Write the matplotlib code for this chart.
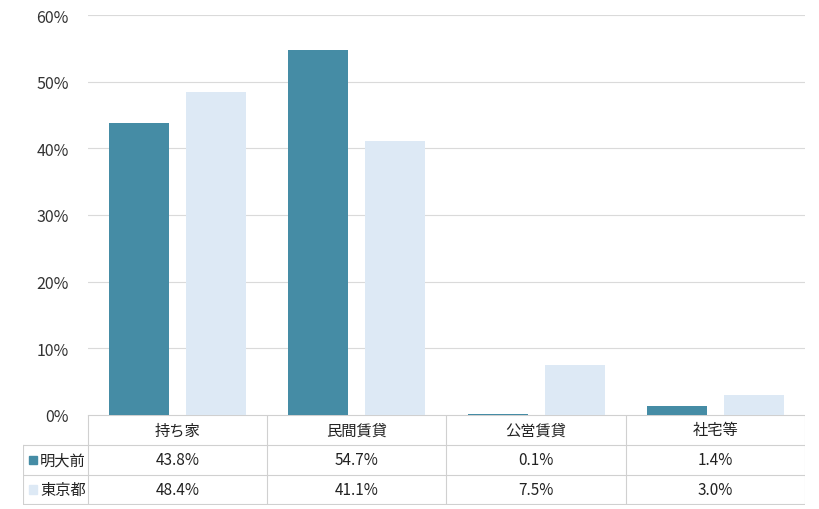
import numpy as np
import matplotlib
matplotlib.use("Agg")
import matplotlib.pyplot as plt

plt.rcParams['font.family'] = ['Noto Sans CJK JP', 'DejaVu Sans']

# データ
categories = ["持ち家", "民間賃貸", "公営賃貸", "社宅等"]
series_names = ["明大前", "東京都"]
meidaimae = [43.8, 54.7, 0.1, 1.4]
tokyo = [48.4, 41.1, 7.5, 3.0]
yticks = [0, 10, 20, 30, 40, 50, 60]

colors = ["#458ca5", "#dde9f5"]
W, H = 820, 510

fig = plt.figure(figsize=(8.2, 5.1), dpi=100)

# プロット領域 (ピクセル -> 図座標)
left, right, top, bottom = 88, 805, 16, 416
ax = fig.add_axes([left / W, 1 - bottom / H, (right - left) / W, (bottom - top) / H])

x = np.arange(len(categories))
bw = 0.335
off = 0.43
ax.bar(x - off / 2, meidaimae, width=bw, color=colors[0], zorder=3)
ax.bar(x + off / 2, tokyo, width=bw, color=colors[1], zorder=3)
ax.set_xlim(-0.5, len(categories) - 0.5)
ax.set_ylim(0, 60)
ax.set_yticks(yticks)
ax.set_yticklabels([f"{v}%" for v in yticks], fontsize=11.5, color="#333333")
ax.set_xticks([])
ax.tick_params(axis="y", length=0, pad=14)
for s in ax.spines.values():
    s.set_visible(False)
ax.grid(axis="y", color="#dadada", linestyle="-", linewidth=0.8, zorder=0)

# データテーブル
tleft, ttop, tbottom = 23, 416, 506
tax = fig.add_axes([tleft / W, 1 - tbottom / H, (right - tleft) / W, (tbottom - ttop) / H])
tax.set_xlim(tleft, right)
tax.set_ylim(3.02, 0)
tax.axis("off")
colw = (right - left) / len(categories)
lc = "#d0d0d0"
lw = 0.8
# 横線
tax.plot([left, right], [0, 0], color=lc, lw=lw)
for r in [1, 2, 3]:
    tax.plot([tleft, right], [r, r], color=lc, lw=lw)
# 縦線
tax.plot([tleft, tleft], [1, 3], color=lc, lw=lw)
for i in range(len(categories) + 1):
    tax.plot([left + i * colw] * 2, [0, 3], color=lc, lw=lw)

fs = 11
for i, c in enumerate(categories):
    cx = left + (i + 0.5) * colw
    tax.text(cx, 0.5, c, ha="center", va="center", fontsize=fs, color="#222222")
    tax.text(cx, 1.5, f"{meidaimae[i]:.1f}%", ha="center", va="center", fontsize=fs, color="#222222")
    tax.text(cx, 2.5, f"{tokyo[i]:.1f}%", ha="center", va="center", fontsize=fs, color="#222222")

for r, (name, col) in enumerate(zip(series_names, colors)):
    tax.add_patch(plt.Rectangle((29, r + 1.36), 8, 0.28, color=col))
    tax.text(40, r + 1.5, name, ha="left", va="center", fontsize=fs, color="#222222")

fig.savefig("out.png", dpi=100)
